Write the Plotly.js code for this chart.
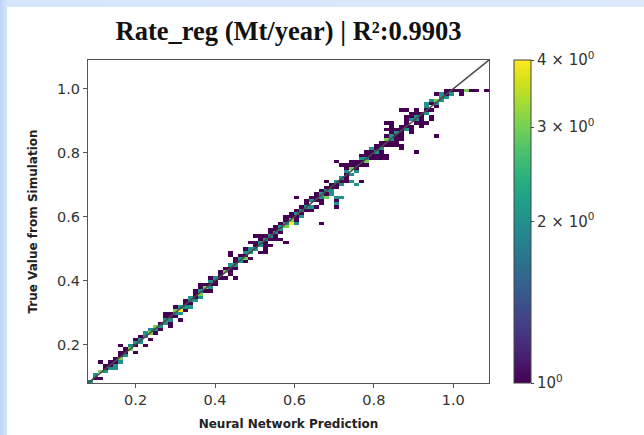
<!DOCTYPE html>
<html>
<head>
<meta charset="utf-8">
<script src="https://cdn.plot.ly/plotly-3.0.1.min.js"></script>
<style>
  html, body { margin: 0; padding: 0; width: 644px; height: 435px; overflow: hidden;
    background: linear-gradient(to right, #bcd5f6 0px, #d4e5fb 7px, #dde9fb 100%); }
  #plot { position: absolute; left: 7px; top: 7px; width: 637px; height: 428px; }
</style>
</head>
<body>
<div id="plot"></div>
<script>
// ---- data: 2D-histogram cells (prediction, true value, count) ----
const predX = [
  0.082,0.088,0.094,0.098,0.094,0.102,0.106,0.11,0.112,0.118,0.124,0.126,0.13,0.134,0.136,0.142,0.144,0.146,0.15,0.154,0.156,0.16,0.164,0.168,0.168,0.17,0.166,0.176,0.172,0.18,0.184,0.188,0.19,
  0.196,0.2,0.204,0.206,0.2,0.208,0.212,0.214,0.218,0.222,0.226,0.228,0.232,0.236,0.24,0.244,0.248,0.252,0.256,0.26,0.262,0.266,0.27,0.274,0.276,0.28,0.284,0.286,0.29,0.292,0.296,
  0.3,0.306,0.31,0.316,0.318,0.322,0.326,0.33,0.334,0.338,0.342,0.346,0.348,0.352,0.354,0.356,0.358,0.362,0.364,0.368,0.37,0.372,0.376,0.38,0.384,0.388,0.39,0.394,0.398,0.4,0.404,0.406,0.41,0.414,0.418,
  0.42,0.424,0.428,0.432,0.436,0.44,0.44,0.444,0.448,0.45,0.452,0.456,0.46,0.464,0.468,0.472,0.476,0.478,0.482,0.486,0.49,0.494,0.498,0.5,0.504,0.506,0.51,0.512,0.516,0.518,0.522,0.524,0.528,
  0.532,0.534,0.538,0.542,0.546,0.55,0.552,0.556,0.56,0.562,0.566,0.57,0.574,0.576,0.58,0.582,0.586,0.588,0.592,0.596,0.6,0.602,0.606,0.61,0.612,0.616,0.62,0.622,
  0.628,0.63,0.634,0.638,0.644,0.65,0.656,0.66,0.662,0.656,0.648,0.64,0.636,0.668,0.666,0.67,0.674,0.678,0.68,0.684,0.688,0.692,0.696,0.7,0.704,0.706,0.712,
  0.7,0.704,0.708,0.712,0.716,0.72,0.722,0.726,0.73,0.732,0.736,0.74,0.742,0.746,0.75,0.752,0.756,0.76,0.764,0.766,0.77,0.772,0.776,0.78,0.784,0.786,0.79,0.794,0.798,0.747,0.785,
  0.8,0.806,0.81,0.816,0.82,0.826,0.83,0.802,0.808,0.814,0.818,0.824,0.83,0.836,0.84,0.844,0.848,0.852,0.856,0.86,0.862,0.866,0.87,0.856,0.828,0.832,0.836,0.842,0.846,0.85,0.854,0.858,0.862,0.868,0.872,0.912,0.954,
  0.874,0.88,0.884,0.887,0.89,0.892,0.896,0.9,0.9,0.904,0.908,0.91,0.916,0.92,0.924,0.926,0.93,0.934,0.938,0.938,0.942,0.946,0.95,0.952,0.956,0.96,0.964,0.968,
  0.954,0.966,0.972,0.976,0.98,0.984,0.99,0.992,1.0,1.008,1.016,1.018,1.026,1.034,1.042,1.05,1.085,
  0.09,0.1,0.108,0.12,0.13,0.14,0.15,0.158,0.176,0.182,0.192,
  0.2,0.21,0.216,0.22,0.23,0.24,0.25,0.258,0.264,0.27,0.278,0.288,0.29,0.298,
  0.304,0.312,0.32,0.328,0.336,0.34,0.35,0.36,0.366,0.374,0.382,0.386,0.392,0.396,0.402,0.408,0.412,0.416,
  0.426,0.434,0.438,0.446,0.454,0.458,0.462,0.466,0.47,0.474,0.48,0.484,0.488,0.492,0.496,0.502,0.508,0.514,0.52,0.526,0.53,
  0.536,0.54,0.544,0.548,0.554,0.558,0.564,0.568,0.572,0.578,0.584,0.59,0.594,0.598,0.604,0.608,0.614,0.618,
  0.626,0.632,0.642,0.646,0.654,0.664,0.672,0.676,0.682,0.686,0.69,0.694,0.698,0.708,0.702,
  0.714,0.718,0.724,0.728,0.734,0.738,0.744,0.748,0.754,0.758,0.762,0.768,0.774,0.778,0.782,0.788,0.792,0.796,
  0.804,0.812,0.816,0.822,0.826,0.834,0.838,0.842,0.846,0.85,0.854,0.858,0.864,0.87,0.874,0.878,0.876,0.88,
  0.884,0.888,0.894,0.898,0.906,0.912,0.918,0.922,0.928,0.932,0.936,0.944,0.948,0.958,0.962,0.966,0.94,0.93,
  0.97,0.978,0.986,0.996,1.004,1.012,1.022,1.03,1.038,1.046,1.054
];
const trueY = [
  0.086,0.09,0.1,0.106,0.11,0.104,0.15,0.12,0.112,0.116,0.12,0.13,0.124,0.13,0.14,0.134,0.13,0.146,0.156,0.15,0.16,0.152,0.158,0.146,0.178,0.186,0.196,0.18,0.17,0.176,0.19,0.184,0.2,
  0.21,0.216,0.2,0.178,0.18,0.228,0.218,0.206,0.212,0.222,0.2,0.232,0.22,0.24,0.236,0.246,0.252,0.248,0.256,0.26,0.244,0.264,0.285,0.294,0.27,0.28,0.266,0.256,0.29,0.272,0.296,
  0.3,0.31,0.306,0.28,0.318,0.326,0.316,0.334,0.322,0.34,0.33,0.352,0.362,0.342,0.336,0.37,0.35,0.362,0.378,0.356,0.372,0.384,0.366,0.38,0.372,0.39,0.404,0.396,0.386,0.4,0.41,0.394,0.418,0.404,0.42,
  0.43,0.412,0.424,0.432,0.426,0.494,0.476,0.44,0.41,0.45,0.456,0.446,0.464,0.456,0.472,0.466,0.48,0.49,0.476,0.486,0.494,0.516,0.52,0.5,0.538,0.506,0.544,0.51,0.52,0.484,0.526,0.502,0.49,
  0.532,0.52,0.544,0.528,0.512,0.55,0.54,0.556,0.53,0.562,0.548,0.568,0.59,0.574,0.52,0.58,0.578,0.59,0.596,0.6,0.665,0.584,0.606,0.596,0.61,0.6,0.62,0.63,
  0.624,0.636,0.646,0.656,0.662,0.664,0.658,0.648,0.636,0.628,0.624,0.626,0.634,0.58,0.666,0.658,0.67,0.662,0.71,0.676,0.684,0.666,0.69,0.626,0.636,0.646,0.656,
  0.7,0.71,0.776,0.704,0.716,0.724,0.76,0.714,0.73,0.766,0.74,0.756,0.734,0.748,0.756,0.7,0.744,0.764,0.77,0.71,0.716,0.776,0.766,0.784,0.79,0.772,0.79,0.786,0.8,0.707,0.77,
  0.79,0.784,0.79,0.786,0.788,0.782,0.792,0.814,0.82,0.81,0.822,0.816,0.826,0.836,0.83,0.838,0.842,0.834,0.846,0.838,0.828,0.82,0.812,0.818,0.842,0.874,0.894,0.88,0.894,0.868,0.858,0.876,0.864,0.87,0.88,0.805,0.85,
  0.933,0.9,0.91,0.933,0.92,0.884,0.874,0.91,0.864,0.9,0.92,0.89,0.895,0.88,0.9,0.936,0.946,0.92,0.898,0.95,0.936,0.96,0.9,0.94,0.962,0.946,0.97,0.96,
  0.982,0.982,0.972,0.988,0.976,0.993,0.988,0.982,0.993,0.993,0.993,0.984,0.988,0.995,0.993,0.993,0.993,
  0.082,0.096,0.1,0.126,0.14,0.148,0.14,0.168,0.166,0.196,0.19,
  0.206,0.22,0.23,0.236,0.226,0.25,0.24,0.27,0.254,0.27,0.286,0.28,0.3,0.286,
  0.32,0.296,0.31,0.34,0.346,0.35,0.358,0.344,0.39,0.376,0.392,0.38,0.384,0.41,0.39,0.406,0.428,0.41,
  0.436,0.44,0.418,0.452,0.466,0.44,0.472,0.46,0.48,0.456,0.484,0.496,0.47,0.5,0.486,0.512,0.498,0.53,0.51,0.536,0.514,
  0.55,0.538,0.56,0.526,0.546,0.57,0.556,0.58,0.56,0.566,0.596,0.582,0.61,0.59,0.616,0.59,0.62,0.61,
  0.634,0.62,0.646,0.63,0.668,0.654,0.676,0.656,0.69,0.67,0.696,0.68,0.706,0.696,0.66,
  0.726,0.706,0.734,0.75,0.722,0.772,0.76,0.728,0.77,0.752,0.78,0.758,0.79,0.774,0.8,0.78,0.8,0.81,
  0.806,0.8,0.834,0.8,0.85,0.82,0.85,0.864,0.826,0.854,0.84,0.856,0.85,0.86,0.846,0.876,0.89,0.884,
  0.896,0.904,0.9,0.92,0.93,0.91,0.926,0.914,0.928,0.934,0.944,0.952,0.962,0.952,0.962,0.974,0.91,0.898,
  0.982,0.978,0.982,0.993,0.993,0.99,0.993,0.99,0.99,0.99,0.993
];
const counts = [
  1,2,1,1,1,2,1,2,3,1,2,1,1,2,1,1,2,1,1,1,2,1,3,2,1,1,1,1,2,1,1,2,1,
  1,1,1,1,1,1,1,2,1,1,1,2,1,2,3,2,1,2,3,2,1,1,1,1,1,2,1,1,1,2,1,
  2,3,4,1,2,1,2,1,2,2,1,1,1,1,2,1,2,3,1,1,2,1,1,3,1,1,1,2,1,1,2,1,1,1,1,
  1,1,2,3,1,1,1,1,1,2,1,1,1,1,2,3,1,1,1,2,1,1,1,2,1,1,1,1,2,1,1,1,1,
  2,1,1,1,1,2,1,1,1,1,1,2,1,3,1,2,4,3,1,1,1,2,2,1,1,2,1,1,
  1,1,1,1,1,1,1,1,1,1,1,1,2,1,2,2,1,3,1,2,1,1,1,1,2,1,2,
  1,2,1,1,1,2,1,1,1,1,2,1,2,3,1,2,2,1,1,1,1,1,1,2,1,1,1,1,1,2,3,
  1,1,1,1,1,1,1,1,1,1,1,2,1,1,1,2,1,1,1,1,1,1,1,1,3,1,1,1,1,1,1,1,2,1,1,1,1,
  1,1,1,1,1,1,1,1,1,2,1,1,1,1,1,1,2,1,1,2,1,2,1,1,2,1,1,2,
  1,1,2,1,2,1,1,2,1,1,1,1,1,3,1,1,1,
  1,1,1,1,1,1,2,1,1,2,3,
  2,2,1,1,2,1,1,1,2,2,1,2,1,1,
  1,2,1,1,1,2,1,1,1,2,1,2,1,1,1,2,1,1,
  1,1,1,2,1,1,1,2,1,1,2,1,1,2,1,1,1,1,2,1,1,
  1,2,1,1,1,1,2,1,1,1,1,2,1,1,1,1,2,1,
  2,1,2,1,1,1,1,1,1,2,1,2,1,1,2,
  1,2,1,1,1,1,1,1,1,1,2,1,1,3,1,1,1,2,
  2,1,1,1,1,1,1,1,1,2,1,1,1,1,1,2,1,1,
  1,2,1,1,1,2,1,1,2,1,1,1,1,2,3,1,1,1,
  2,1,1,1,1,1,1,1,1,1,1
];
const cbTickCounts = [1, 2, 3, 4];
const cbTickText = ['10<sup>0</sup>', '2 × 10<sup>0</sup>', '3 × 10<sup>0</sup>', '4 × 10<sup>0</sup>'];
const xTicks = [0.2, 0.4, 0.6, 0.8, 1.0];
const yTicks = [0.2, 0.4, 0.6, 0.8, 1.0];
const lo = 0.08, hi = 1.09, nBinsX = 80, nBinsY = 100;

// ---- build histogram grid ----
const dx = (hi - lo) / nBinsX, dy = (hi - lo) / nBinsY;
const xc = [], yc = [];
for (let i = 0; i < nBinsX; i++) xc.push(lo + (i + 0.5) * dx);
for (let j = 0; j < nBinsY; j++) yc.push(lo + (j + 0.5) * dy);
const z = [];
for (let j = 0; j < nBinsY; j++) z.push(new Array(nBinsX).fill(null));
for (let k = 0; k < predX.length; k++) {
  const i = Math.min(nBinsX - 1, Math.floor((predX[k] - lo) / dx));
  const j = Math.min(nBinsY - 1, Math.floor((trueY[k] - lo) / dy));
  const v = Math.log10(counts[k]);
  if (z[j][i] === null || v > z[j][i]) z[j][i] = v;
}

const heat = {
  type: 'heatmap', x: xc, y: yc, z: z,
  colorscale: 'Viridis', zmin: 0, zmax: Math.log10(4),
  hoverongaps: false, showscale: true,
  colorbar: {
    x: 1.062, xanchor: 'left', xpad: 0, ypad: 0,
    y: 0.5, yanchor: 'middle', len: 1, lenmode: 'fraction',
    thickness: 17, outlinewidth: 1, outlinecolor: '#444',
    tickvals: cbTickCounts.map(v => Math.log10(v)), ticktext: cbTickText,
    ticks: 'outside', ticklen: 3, tickcolor: '#444',
    tickfont: { family: 'DejaVu Sans', size: 15, color: '#333' }
  }
};
const diag = {
  type: 'scatter', mode: 'lines', x: [lo, hi], y: [lo, hi],
  line: { color: '#4a4a4a', width: 1.5 }, showlegend: false, hoverinfo: 'skip'
};

const axisCommon = {
  range: [lo, hi], showgrid: false, zeroline: false,
  showline: true, mirror: true, linecolor: '#555', linewidth: 1,
  ticks: 'outside', ticklen: 4, tickcolor: '#555', tickformat: '.1f',
  tickfont: { family: 'DejaVu Sans', size: 14.5, color: '#333' }
};

const layout = {
  width: 637, height: 428,
  margin: { l: 81, r: 155, t: 53, b: 52 },
  paper_bgcolor: '#ffffff', plot_bgcolor: '#ffffff',
  title: {
    text: 'Rate_reg (Mt/year) | R²:0.9903',
    font: { family: 'Liberation Serif', size: 26.5, color: '#111', weight: 'bold' },
    x: 0.5, xref: 'paper', y: 0.945, yref: 'container', yanchor: 'middle'
  },
  xaxis: Object.assign({}, axisCommon, {
    tickvals: xTicks,
    title: { text: '<b>Neural Network Prediction</b>', standoff: 12,
      font: { family: 'DejaVu Sans', size: 12, color: '#222' } }
  }),
  yaxis: Object.assign({}, axisCommon, {
    tickvals: yTicks,
    title: { text: '<b>True Value from Simulation</b>', standoff: 16,
      font: { family: 'DejaVu Sans', size: 12, color: '#222' } }
  }),
  showlegend: false
};

Plotly.newPlot('plot', [heat, diag], layout, { displayModeBar: false, staticPlot: true });
</script>
</body>
</html>
